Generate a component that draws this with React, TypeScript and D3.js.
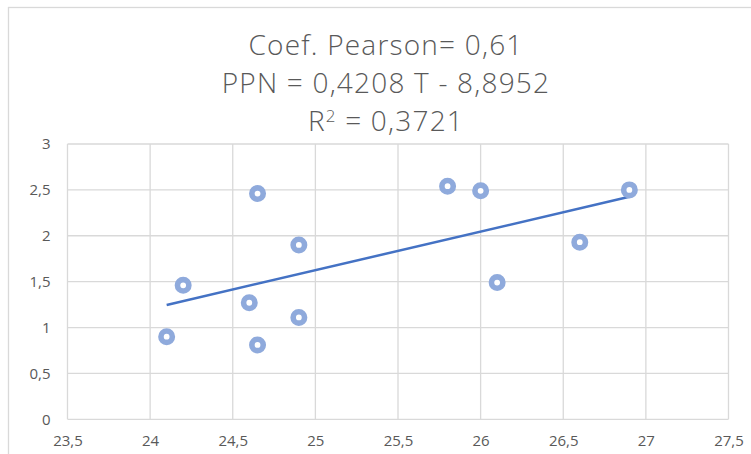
import React, { useRef, useEffect } from "react";
import { select, scaleLinear, axisBottom, axisLeft, line, range } from "d3";

// temperature (T) vs PPN
const tempValues = [24.1, 24.2, 24.6, 24.65, 24.65, 24.9, 24.9, 25.8, 26.0, 26.1, 26.6, 26.9];
const ppnValues = [0.9, 1.46, 1.27, 2.46, 0.81, 1.9, 1.11, 2.54, 2.49, 1.49, 1.93, 2.5];
const xTicks = [23.5, 24, 24.5, 25, 25.5, 26, 26.5, 27, 27.5];
const yTicks = [0, 0.5, 1, 1.5, 2, 2.5, 3];
const titleLines = ["Coef. Pearson= 0,61", "PPN = 0,4208 T - 8,8952"];
const slope = 0.4208;
const intercept = -8.8952;

const fmt = (d: number) => String(d).replace(".", ",");

function App() {
  const svgRef = useRef<SVGSVGElement>(null);
  const width = 751,
    height = 454;
  const left = 67.5,
    right = 728.5,
    top = 144,
    bottom = 419.3;

  useEffect(() => {
    const svg = select(svgRef.current);
    svg.selectAll("*").remove();

    const xScale = scaleLinear().domain([23.5, 27.5]).range([left, right]);
    const yScale = scaleLinear().domain([0, 3]).range([bottom, top]);

    // chart border
    svg.append("rect")
      .attr("x", 8.5).attr("y", 7.5)
      .attr("width", 760).attr("height", 460)
      .attr("fill", "white")
      .attr("stroke", "#d9d9d9")
      .attr("stroke-width", 1.3);

    // title
    const title = svg.append("text")
      .attr("text-anchor", "middle")
      .attr("font-family", "'Open Sans', sans-serif")
      .attr("font-weight", 300)
      .attr("font-size", 28)
      .attr("letter-spacing", 1.2)
      .attr("fill", "#595959");
    titleLines.forEach((t, i) => {
      title.append("tspan").attr("x", 386).attr("y", 55 + i * 38).text(t);
    });
    const r2 = title.append("tspan").attr("x", 386).attr("y", 131);
    r2.append("tspan").text("R");
    r2.append("tspan").attr("font-size", 17).attr("dy", -9).text("2");
    r2.append("tspan").attr("dy", 9).text(" = 0,3721");

    // grid
    svg.append("g")
      .selectAll("line.h")
      .data(yTicks)
      .join("line")
      .attr("x1", left).attr("x2", right)
      .attr("y1", yScale).attr("y2", yScale)
      .attr("stroke", "#d9d9d9").attr("stroke-width", 1.3);
    svg.append("g")
      .selectAll("line.v")
      .data(xTicks)
      .join("line")
      .attr("x1", xScale).attr("x2", xScale)
      .attr("y1", top).attr("y2", bottom)
      .attr("stroke", "#d9d9d9").attr("stroke-width", 1.3);

    // axes (labels only)
    const xAxis = axisBottom(xScale).tickValues(xTicks).tickFormat(d => fmt(+d)).tickSize(0).tickPadding(16);
    const yAxis = axisLeft(yScale).tickValues(yTicks).tickFormat(d => fmt(+d)).tickSize(0).tickPadding(17);
    const gx = svg.append("g").attr("transform", `translate(0,${bottom})`).call(xAxis);
    const gy = svg.append("g").attr("transform", `translate(${left},0)`).call(yAxis);
    [gx, gy].forEach(g => {
      g.select(".domain").remove();
      g.selectAll("text")
        .attr("font-family", "'Open Sans', sans-serif")
        .attr("font-size", 15)
        .attr("fill", "#595959");
    });

    // trend line
    const xs = [Math.min(...tempValues), Math.max(...tempValues)];
    const trend = line<number>()
      .x(d => xScale(d))
      .y(d => yScale(slope * d + intercept));
    svg.append("path")
      .attr("d", trend(xs))
      .attr("fill", "none")
      .attr("stroke", "#4472c4")
      .attr("stroke-width", 2.5);

    // points
    svg.append("g")
      .selectAll("circle")
      .data(range(tempValues.length))
      .join("circle")
      .attr("cx", i => xScale(tempValues[i]))
      .attr("cy", i => yScale(ppnValues[i]))
      .attr("r", 5.7)
      .attr("fill", "white")
      .attr("stroke", "#8faadc")
      .attr("stroke-width", 5.6);
  }, []);

  return (
    <svg
      ref={svgRef}
      width={width}
      height={height}
      style={{ position: "absolute", left: 0, top: 0, background: "white" }}
    />
  );
}

export default App;
